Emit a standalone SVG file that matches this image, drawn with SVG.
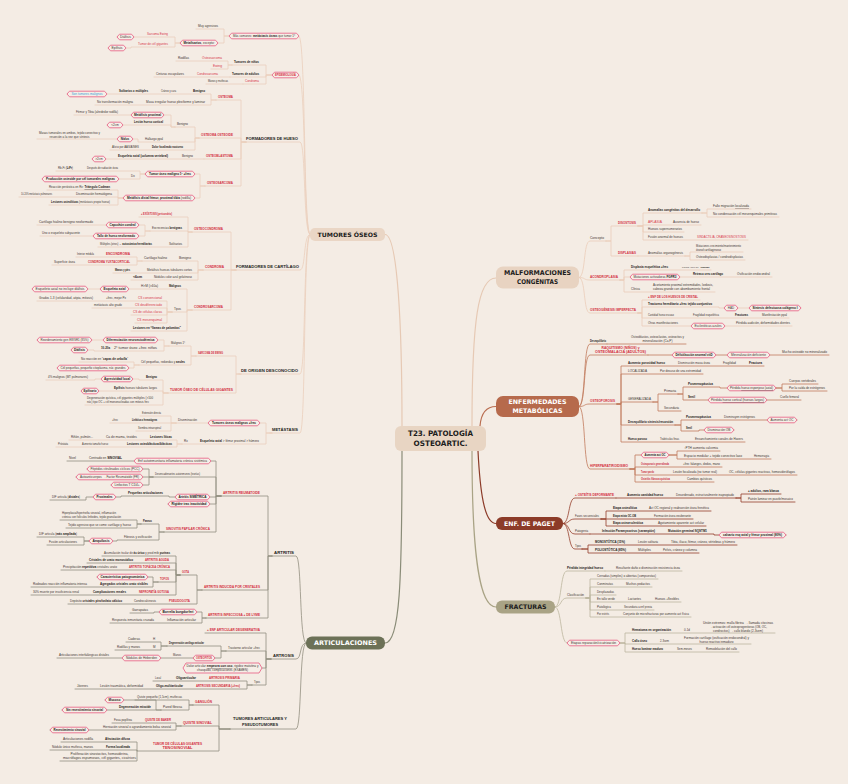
<svg xmlns="http://www.w3.org/2000/svg" width="848" height="784" viewBox="0 0 848 784">
<style>
text{font-family:"Liberation Sans",Arial,sans-serif;font-size:3px;fill:#3f3633}
.b{font-weight:700;fill:#1d1816}
.r{font-weight:700;fill:#d32c3d;font-size:2.9px}
.rr{fill:#d8374a}
.rb{font-weight:700;fill:#c9283a}
.k{font-weight:700;fill:#231d1a;font-size:3.8px}
.bl{fill:#3a9fd6}
.m{text-anchor:middle}
.u{text-decoration:underline}
.s{font-size:2.6px}
.xs{font-size:2.5px}
.hx{fill:#f6eee7;stroke:#ea7895;stroke-width:1}
.L{font-family:"DejaVu Sans",sans-serif;font-weight:700}
.w{fill:#fff}
.c{fill:none;stroke-width:.8;stroke-linejoin:round;stroke-linecap:round}
.ct{stroke:#ebcfbd}.ca{stroke:#938f80}.cm{stroke:#ebcdb9}.ce{stroke:#c27b5d}.cp{stroke:#953f2c}.cf{stroke:#bcb69e}
.mc{fill:none;stroke-width:1.2;stroke-linecap:round}
</style>
<rect width="848" height="784" fill="#f4ece4"/>
<g id="connectors">
<path class="mc" stroke="#e6c9b4" d="M385 234.5C398 234.5 402 330 402 426"/>
<path class="mc" stroke="#e6c9b4" d="M472 426C472 320 478 278 496 278"/>
<path class="mc" stroke="#b96d50" d="M480 426C481 414 486 406.5 496 406.5"/>
<path class="mc" stroke="#8c3b28" d="M478 451C480 490 484 523.5 496 523.5"/>
<path class="mc" stroke="#a9a385" d="M472 451C472 560 480 607 496 607"/>
<path class="mc" stroke="#8a8c78" d="M402 451C402 580 400 643 385 643"/>
<path class="c ct" d="M310 234.5C303 234.5 306 36 299 36M310 234.5C303 234.5 306 75 299 75M310 234.5C303 234.5 306 142 300 142H244M310 234.5C303 234.5 306 270 300 270H234M310 234.5C303 234.5 306 374 300 374H239M310 234.5C303 234.5 306 433 300 433H270
M229 36H224V29H196M229 36H224V43H180M180 43H175V37H140H117M180 43H175V47H136H131V48H108
M272 75H266V65H232M272 75H266V77H230M272 75H266V84H243M232 65H228V61H176M232 65H228V69H211M230 77H154M243 84H206
M246 142H241V100H216M246 142H241V138H199M246 142H241V159H204M246 142H241V186H205
M216 100H211V94H67M216 100H211V105H95M199 138H195V127H175M175 127H171V115H74M175 127H171V125H107M199 138H195V142H143H138V139H37M199 138H195V150H110M204 159H92
M205 186H200V174H145M145 174H140V171H56M145 174H140V179H42M205 186H200V198H123M123 198H118V190H47M123 198H118V197H19M123 198H118V205H49
M236 270H231V232H192M236 270H203M236 270H231V310H192M192 232H188V217H139M192 232H188V231H150M150 231H145V225H37M150 231H145V236H40M192 232H188V247H98
M203 270H198V261H142M142 261H137V257H76M142 261H137V265H52M203 270H198V273H113M203 270H198V280H131
M192 310H187V289H32M192 310H187V312H172M172 312H167V301H37M172 312H167V308H92M172 312H167V315H131M172 312H167V323H135M192 310H187V331H131
M241 374H236V356H196M241 374H236V393H168M196 356H191V346H169M169 346H164V340H37M169 346H164V351H99H94V350H71M196 356H191V365H139M139 365H134V362H79M139 365H134V368H57
M168 393H163V380H144H139V379H101H95V380H46M168 393H163V391H81M168 393H163V405H85
M272 433H266V423H176M176 423H171V416H140M176 423H110M176 423H171V431H136M272 433H266V444H182M182 444H177V440H69M182 444H177V447H56"/>
<path class="c ca" d="M306 643C299 643 302 556 296 556H272M306 643C299 643 302 659 296 659H271M306 643C299 643 302 729 296 729H230
M272 556H268V496H221M272 556H268V590H202M272 556H268V618H206
M221 496H216V461H67M221 496H216V477H153M153 477H149V469H87M153 477H76M153 477H149V485H111M221 496H216V497H175H169V496H126H121V497H93H86V500H50M221 496H216V504H168
M221 496H216V532H164M164 532H159V524H141M141 524H137V520H60M141 524H137V528H66M164 532H159V540H122H117V541H89M89 541H84V537H37M89 541H84V545H47
M202 590H197V575H180M180 575H176V556H102M180 575H176V563H87M180 575H176V570H61M180 575H176V582H158M158 582H153V577H97M158 582H153V587H31M180 575H176V595H31M202 590H197V604H68
M206 618H202V612H159H154V613H130M206 618H202V623H110
M271 659H266V633H205M271 659H266V651H226M226 651H221V646H167M167 646H161V642H126M167 646H161V650H115M226 651H221V658H57M271 659H266V668H262M271 659H266V685H252M252 685H247V681H153M252 685H247V689H75
M230 729H219V705H193M193 705H189V700H135M193 705H189V710H161M161 710H156V700H105M161 710H62M230 729H219V726H181M181 726H176V723H112M181 726H176V730H50M230 729H219V751H137V742H61M137 751V750H50M137 751V761H60"/>
<path class="c cm" d="M579 277.5C586 277.5 583 241 590 241H606M579 277.5C586 277.5 583 280 590 280H620M579 277.5C586 277.5 583 313 590 313H638
M606 241H611V226H638M606 241H611V256H638M638 226H643V213H702M702 213H707V209H751M702 213H707V217H779M638 226H643V225H701M638 226H643V232H684M638 226H643V240H748
M638 256H685M685 256H690V252H743M685 256H690V260H745M620 280H624V270H711M620 280H624V277H772M620 280H624V292H715
M638 313H642V300H700M638 313H642V307H714H719V308H801M638 313H642V318H789M638 313H642V326H792"/>
<path class="c ce" d="M579 406.5C586 406.5 583 344 590 344H607M579 406.5C586 406.5 583 355 590 355H648M579 406.5C586 406.5 583 404 590 404H617M579 406.5C586 406.5 583 469 590 469H630
M607 344H686M648 355H829M617 404H621V366H764M617 404H621V374H703M617 404H621V402H653M653 402H658V394H678M678 394H683V387H720V388H776M776 388H782V384H818M776 388H782V391H827M678 394H683V400H801M653 402H658V411H681
M617 404H621V425H675M675 425H681V420H797M675 425H681V431H699V430H734M617 404H621V442H745
M630 469H635V455H669M669 455H677V451H720M669 455H677V459H771M630 469H635V467H722M630 469H635V475H797M630 469H635V482H714"/>
<path class="c cp" d="M563 523.5C570 523.5 568 498 575 498H616M563 523.5C570 523.5 568 519 575 519H601M563 523.5C570 523.5 568 534 575 534H590M563 523.5C570 523.5 568 549 575 549H582
M616 498H736M736 498H741V494H781M736 498H741V502H795M601 519H606V511H711M601 519H693M601 519H606V526H706M590 534H714V535H786M582 549H588V545H737M582 549H588V553H699"/>
<path class="c cf" d="M555 607C562 607 560 571 567 571H605M555 607C562 607 560 598 567 598H586M555 607C562 607 560 643 567 643
M605 571H682M586 598H590V579H658M586 598H590V587H652M586 598H590V595H616M586 598H590V602H681M586 598H590V610H654M586 598H590V617H691
M620 643H625V633H775M620 643H625V644H751M620 643H625V652H739"/>
</g>

<g id="center"><rect x="395" y="426" width="91" height="25" rx="6" fill="#e8d5c3"/><text class="L m" x="440.5" y="435.6" style="font-size:7.5px;fill:#1c1c1c" textLength="65" lengthAdjust="spacingAndGlyphs">T23. PATOLOGÍA</text><text class="L m" x="440.5" y="446.4" style="font-size:7.5px;fill:#1c1c1c" textLength="54" lengthAdjust="spacingAndGlyphs">OSTEOARTIC.</text></g>
<g id="tumores"><rect x="310" y="228" width="75" height="13" rx="5" fill="#ead6c5"/><text class="L m" x="347.5" y="236.7" style="font-size:6px;fill:#1c1c1c" textLength="60" lengthAdjust="spacingAndGlyphs">TUMORES ÓSEOS</text></g>
<g id="malformaciones"><rect x="496" y="266.5" width="83" height="22" rx="7" fill="#e8d3c1"/><text class="L m" x="537.5" y="275" style="font-size:6.5px;fill:#1c1c1c" textLength="67" lengthAdjust="spacingAndGlyphs">MALFORMACIONES</text><text class="L m" x="537.5" y="283.6" style="font-size:6.5px;fill:#1c1c1c" textLength="41" lengthAdjust="spacingAndGlyphs">CONGÉNITAS</text></g>
<g id="metabolicas"><rect x="496" y="396" width="83" height="21" rx="7" fill="#b66a4c"/><text class="L m w" x="537.5" y="404.4" style="font-size:6.3px" textLength="58" lengthAdjust="spacingAndGlyphs">ENFERMEDADES</text><text class="L m w" x="537.5" y="413" style="font-size:6.3px" textLength="50" lengthAdjust="spacingAndGlyphs">METABÓLICAS</text></g>
<g id="paget"><rect x="496" y="517" width="67" height="13" rx="6" fill="#8c3b28"/><text class="L m w" x="529.5" y="526" style="font-size:6.3px" textLength="51" lengthAdjust="spacingAndGlyphs">ENF. DE PAGET</text></g>
<g id="fracturas"><rect x="496" y="600.5" width="59" height="13" rx="6" fill="#a9a385"/><text class="L m" x="525.5" y="609.4" style="font-size:6.3px;fill:#1c1c1c" textLength="42" lengthAdjust="spacingAndGlyphs">FRACTURAS</text></g>
<g id="articulaciones"><rect x="306" y="636.5" width="79" height="13" rx="6" fill="#6c7157"/><text class="L m w" x="345.5" y="645.4" style="font-size:6.3px" textLength="63" lengthAdjust="spacingAndGlyphs">ARTICULACIONES</text></g>

<g id="t-mas"><polygon class="hx" points="229,36 231.5,33.2 296.5,33.2 299,36 296.5,38.8 231.5,38.8"/><text class="m" x="264" y="37" textLength="62" lengthAdjust="spacingAndGlyphs">Más comunes: <tspan class="b">metástasis óseas</tspan> que tumor 1º</text></g>
<g id="t-muy"><text x="198" y="27" textLength="20" lengthAdjust="spacingAndGlyphs">Muy agresivos</text></g>
<g id="t-meta"><polygon class="hx" points="180,43 182.5,40.2 215.5,40.2 218,43 215.5,45.8 182.5,45.8"/><text class="m" x="199" y="44" textLength="31" lengthAdjust="spacingAndGlyphs"><tspan class="b">Metafisarios</tspan>, excepto:</text></g>
<g id="t-sew"><text class="rr" x="147" y="35" textLength="21" lengthAdjust="spacingAndGlyphs">Sarcoma Ewing</text></g>
<g id="t-dia"><polygon class="hx" points="117,37 119.5,34.2 131.5,34.2 134,37 131.5,39.8 119.5,39.8"/><text class="m" x="125.5" y="38" textLength="11" lengthAdjust="spacingAndGlyphs">Diáfisis</text></g>
<g id="t-tcg"><text class="rr" x="138" y="45" textLength="30" lengthAdjust="spacingAndGlyphs">Tumor de cél gigantes</text></g>
<g id="t-epi"><polygon class="hx" points="108,48 110.5,45.2 123.5,45.2 126,48 123.5,50.8 110.5,50.8"/><text class="m" x="117" y="49" textLength="11" lengthAdjust="spacingAndGlyphs">Epífisis</text></g>
<g id="t-epid"><polygon class="hx" points="272,75 274.5,72.2 296.5,72.2 299,75 296.5,77.8 274.5,77.8"/><text class="r m" x="285.5" y="76" textLength="21" lengthAdjust="spacingAndGlyphs">EPIDEMIOLOGÍA</text></g>
<g id="t-tn"><text class="b" x="234" y="63" textLength="25" lengthAdjust="spacingAndGlyphs">Tumores de niños</text></g>
<g id="t-os1"><text class="rr" x="202" y="59" textLength="20" lengthAdjust="spacingAndGlyphs">Osteosarcoma</text></g>
<g id="t-rod"><text x="178" y="59" textLength="11" lengthAdjust="spacingAndGlyphs">Rodillas</text></g>
<g id="t-ew1"><text class="rr" x="213" y="67" textLength="9" lengthAdjust="spacingAndGlyphs">Ewing</text></g>
<g id="t-ta"><text class="b" x="232" y="75" textLength="27" lengthAdjust="spacingAndGlyphs">Tumores de adultos</text></g>
<g id="t-cs1"><text class="rr" x="197" y="75" textLength="21" lengthAdjust="spacingAndGlyphs">Condrosarcoma</text></g>
<g id="t-cin"><text x="156" y="75" textLength="28" lengthAdjust="spacingAndGlyphs">Cinturas escapulares</text></g>
<g id="t-con1"><text class="rr" x="245" y="82" textLength="14" lengthAdjust="spacingAndGlyphs">Condroma</text></g>
<g id="t-man"><text x="208" y="82" textLength="20" lengthAdjust="spacingAndGlyphs">Manos y muñecas</text></g>

<g id="t-fh"><text class="k" x="246" y="140.4" textLength="52" lengthAdjust="spacingAndGlyphs">FORMADORES DE HUESO</text></g>
<g id="t-ostm"><text class="r" x="218" y="98" textLength="15" lengthAdjust="spacingAndGlyphs">OSTEOMA</text></g>
<g id="t-ben1"><text class="b" x="193" y="92" textLength="12" lengthAdjust="spacingAndGlyphs">Benigno</text></g>
<g id="t-cra"><text x="161" y="92" textLength="15" lengthAdjust="spacingAndGlyphs">Cráneo y cara</text></g>
<g id="t-sol"><text class="b" x="119" y="92" textLength="29" lengthAdjust="spacingAndGlyphs">Solitarios o múltiples</text></g>
<g id="t-son"><polygon class="hx" points="67,94 69.5,91.2 104.5,91.2 107,94 104.5,96.8 69.5,96.8"/><text class="m bl" x="87" y="95" textLength="31" lengthAdjust="spacingAndGlyphs">Son tumores malignos</text></g>
<g id="t-masa"><text x="146" y="103" textLength="59" lengthAdjust="spacingAndGlyphs">Masa irregular hueso plexiforme y laminar</text></g>
<g id="t-notr"><text x="97" y="103" textLength="36" lengthAdjust="spacingAndGlyphs">No transformación maligna</text></g>
<g id="t-oo"><text class="r" x="201" y="136" textLength="32" lengthAdjust="spacingAndGlyphs">OSTEOMA OSTEOIDE</text></g>
<g id="t-ben2"><text x="177" y="125" textLength="11" lengthAdjust="spacingAndGlyphs">Benigno</text></g>
<g id="t-metp"><polygon class="hx" points="131,115 133.5,112.2 161.5,112.2 164,115 161.5,117.8 133.5,117.8"/><text class="b m" x="147.5" y="116" textLength="27" lengthAdjust="spacingAndGlyphs">Metáfisis proximal</text></g>
<g id="t-fem"><text x="76" y="113" textLength="42" lengthAdjust="spacingAndGlyphs">Fémur y Tibia (alrededor rodilla)</text></g>
<g id="t-lhc"><text class="b" x="134" y="123" textLength="29" lengthAdjust="spacingAndGlyphs">Lesión hueso cortical</text></g>
<g id="t-2cm"><polygon class="hx" points="107,125 109.5,122.2 120.5,122.2 123,125 120.5,127.8 109.5,127.8"/><text class="m" x="115" y="126">&lt;2cm</text></g>
<g id="t-hall"><text x="145" y="140" textLength="18" lengthAdjust="spacingAndGlyphs">Hallazgo ppal</text></g>
<g id="t-nid"><polygon class="hx" points="117,139 119.5,136.2 130.5,136.2 133,139 130.5,141.8 119.5,141.8"/><text class="b m" x="125" y="140">Nidus</text></g>
<g id="t-masas"><text class="m" x="69.5" y="133.6" textLength="61" lengthAdjust="spacingAndGlyphs">Masas tumorales en ambos, tejido conectivo y</text><text class="m" x="69.5" y="137.6" textLength="40" lengthAdjust="spacingAndGlyphs">resorción a la vez que síntesis</text></g>
<g id="t-dol"><text class="b" x="152" y="148" textLength="31" lengthAdjust="spacingAndGlyphs">Dolor focalizado nocturno</text></g>
<g id="t-aliv"><text x="112" y="148" textLength="27" lengthAdjust="spacingAndGlyphs">Alivio por AAS/AINES</text></g>
<g id="t-ob"><text class="r" x="206" y="157" textLength="27" lengthAdjust="spacingAndGlyphs">OSTEOBLASTOMA</text></g>
<g id="t-ben3"><text x="182" y="157" textLength="11" lengthAdjust="spacingAndGlyphs">Benigno</text></g>
<g id="t-esq1"><text class="b" x="118" y="157" textLength="50" lengthAdjust="spacingAndGlyphs">Esqueleto axial (columna vertebral)</text></g>
<g id="t-gt2"><polygon class="hx" points="92,159 94.5,156.2 103.5,156.2 106,159 103.5,161.8 94.5,161.8"/><text class="m" x="99" y="160">&gt;2cm</text></g>
<g id="t-osar"><text class="r" x="207" y="184" textLength="26" lengthAdjust="spacingAndGlyphs">OSTEOSARCOMA</text></g>
<g id="t-tom"><polygon class="hx" points="145,174 147.5,171.2 192.5,171.2 195,174 192.5,176.8 147.5,176.8"/><text class="b m" x="170" y="175" textLength="42" lengthAdjust="spacingAndGlyphs">Tumor óseo maligno 1º +frec</text></g>
<g id="t-desp"><text x="87" y="169" textLength="31" lengthAdjust="spacingAndGlyphs">Después de radiación ósea</text></g>
<g id="t-rb"><text x="58" y="169" textLength="15" lengthAdjust="spacingAndGlyphs">Rb-Fi (<tspan class="b">LiFr</tspan>)</text></g>
<g id="t-dx"><text x="131" y="177">Dx</text></g>
<g id="t-prod"><polygon class="hx" points="42,179 44.5,176.2 116.5,176.2 119,179 116.5,181.8 44.5,181.8"/><text class="b m" x="80.5" y="180" textLength="69" lengthAdjust="spacingAndGlyphs">Producción osteoide por cél tumorales malignas</text></g>
<g id="t-mdf"><polygon class="hx" points="123,198 125.5,195.2 192.5,195.2 195,198 192.5,200.8 125.5,200.8"/><text class="m" x="159" y="199" textLength="64" lengthAdjust="spacingAndGlyphs"><tspan class="b">Metáfisis distal fémur, proximal tibia</tspan> (rodilla)</text></g>
<g id="t-reac"><text x="49" y="188" textLength="61" lengthAdjust="spacingAndGlyphs">Reacción perióstica en Rx: <tspan class="b u">Triángulo Codman</tspan></text></g>
<g id="t-dise"><text x="76" y="195" textLength="36" lengthAdjust="spacingAndGlyphs">Diseminación hematógena</text></g>
<g id="t-1020"><text x="21" y="195" textLength="31" lengthAdjust="spacingAndGlyphs">10-20% metástasis pulmonares</text></g>
<g id="t-lost"><text class="s" x="51" y="203" textLength="59" lengthAdjust="spacingAndGlyphs"><tspan class="b">Lesiones osteolíticas</tspan> (metástasis propio hueso)</text></g>

<g id="t-fc"><text class="k" x="236" y="268.4" textLength="63" lengthAdjust="spacingAndGlyphs">FORMADORES DE CARTÍLAGO</text></g>
<g id="t-ocd"><text class="r" x="194" y="230" textLength="29" lengthAdjust="spacingAndGlyphs">OSTEOCONDROMA</text></g>
<g id="t-exo"><text class="r" x="141" y="215" textLength="31" lengthAdjust="spacingAndGlyphs">+ EXÓSTOSIS (pericondrio)</text></g>
<g id="t-exc"><text x="152" y="229" textLength="30" lengthAdjust="spacingAndGlyphs">Excrecencias <tspan class="b">benignas</tspan></text></g>
<g id="t-cap"><polygon class="hx" points="106,225 108.5,222.2 136.5,222.2 139,225 136.5,227.8 108.5,227.8"/><text class="b m" x="122.5" y="226" textLength="26" lengthAdjust="spacingAndGlyphs">Capuchón condral</text></g>
<g id="t-carh"><text x="39" y="223" textLength="54" lengthAdjust="spacingAndGlyphs">Cartílago hialino benigno neoformado</text></g>
<g id="t-tallo"><polygon class="hx" points="93,236 95.5,233.2 136.5,233.2 139,236 136.5,238.8 95.5,238.8"/><text class="b m" x="116" y="237" textLength="38" lengthAdjust="spacingAndGlyphs">Tallo de hueso neoformado</text></g>
<g id="t-uno"><text x="42" y="234" textLength="38" lengthAdjust="spacingAndGlyphs">Uno o esqueleto subyacente</text></g>
<g id="t-soli"><text x="169" y="245" textLength="13" lengthAdjust="spacingAndGlyphs">Solitarios</text></g>
<g id="t-mult"><text class="s" x="100" y="245" textLength="52" lengthAdjust="spacingAndGlyphs">Múltiples (otros) → <tspan class="b">autosómica hereditarias</tspan></text></g>
<g id="t-cond"><text class="r" x="205" y="268" textLength="19" lengthAdjust="spacingAndGlyphs">CONDROMA</text></g>
<g id="t-ben4"><text x="179" y="259" textLength="12" lengthAdjust="spacingAndGlyphs">Benigno</text></g>
<g id="t-carh2"><text x="144" y="259" textLength="23" lengthAdjust="spacingAndGlyphs">Cartílago hialino</text></g>
<g id="t-enc"><text class="r" x="106" y="255" textLength="24" lengthAdjust="spacingAndGlyphs">ENCONDROMA</text></g>
<g id="t-int"><text x="77" y="255" textLength="17" lengthAdjust="spacingAndGlyphs">Interior médula</text></g>
<g id="t-sup"><text x="54" y="263" textLength="21" lengthAdjust="spacingAndGlyphs">Superficie ósea</text></g>
<g id="t-yux"><text class="r" x="88" y="263" textLength="42" lengthAdjust="spacingAndGlyphs">CONDROMA YUXTACORTICAL</text></g>
<g id="t-mht"><text x="147" y="271" textLength="45" lengthAdjust="spacingAndGlyphs">Metáfisis huesos tubulares cortos</text></g>
<g id="t-myp"><text class="b" x="115" y="271" textLength="15" lengthAdjust="spacingAndGlyphs">Manos y pies</text></g>
<g id="t-nod"><text x="154" y="278" textLength="38" lengthAdjust="spacingAndGlyphs">Nódulos color azul gelatinoso</text></g>
<g id="t-6cm"><text class="b" x="133" y="278" textLength="9" lengthAdjust="spacingAndGlyphs">&lt;6cm</text></g>
<g id="t-csar"><text class="r" x="194" y="308" textLength="29" lengthAdjust="spacingAndGlyphs">CONDROSARCOMA</text></g>
<g id="t-mal"><text class="b" x="169" y="287" textLength="12" lengthAdjust="spacingAndGlyphs">Malignos</text></g>
<g id="t-hm"><text x="141" y="287" textLength="17" lengthAdjust="spacingAndGlyphs">H&gt;M (&gt;40a)</text></g>
<g id="t-esq2"><polygon class="hx" points="100,289 102.5,286.2 126.5,286.2 129,289 126.5,291.8 102.5,291.8"/><text class="b m" x="114.5" y="290" textLength="22" lengthAdjust="spacingAndGlyphs">Esqueleto axial</text></g>
<g id="t-esq3"><polygon class="hx" points="32,289 34.5,286.2 85.5,286.2 88,289 85.5,291.8 34.5,291.8"/><text class="m" x="60" y="290" textLength="49" lengthAdjust="spacingAndGlyphs">Esqueleto axial no incluye diáfisis</text></g>
<g id="t-tip1"><text x="174" y="310" textLength="7" lengthAdjust="spacingAndGlyphs">Tipos</text></g>
<g id="t-csc"><text class="rr" x="138" y="299" textLength="24" lengthAdjust="spacingAndGlyphs">CS convencional</text></g>
<g id="t-frec"><text x="106" y="299" textLength="20" lengthAdjust="spacingAndGlyphs">+frec, mejor Px</text></g>
<g id="t-gra"><text x="39" y="299" textLength="54" lengthAdjust="spacingAndGlyphs">Grados 1-3 (celularidad, atipia, mitosis)</text></g>
<g id="t-csd"><text class="rr" x="135" y="306" textLength="27" lengthAdjust="spacingAndGlyphs">CS desdiferenciado</text></g>
<g id="t-met"><text x="94" y="306" textLength="28" lengthAdjust="spacingAndGlyphs">metástasis alto grado</text></g>
<g id="t-cscc"><text class="rr" x="133" y="313" textLength="29" lengthAdjust="spacingAndGlyphs">CS de células claras</text></g>
<g id="t-csm"><text class="rr" x="137" y="321" textLength="25" lengthAdjust="spacingAndGlyphs">CS mesenquimal</text></g>
<g id="t-llam"><text class="b" x="133" y="329" textLength="48" lengthAdjust="spacingAndGlyphs">Lesiones en “llamas de palomitas”</text></g>

<g id="t-dod"><text class="k" x="241" y="372.4" textLength="57" lengthAdjust="spacingAndGlyphs">DE ORIGEN DESCONOCIDO</text></g>
<g id="t-sew2"><text class="r" x="198" y="354" textLength="25" lengthAdjust="spacingAndGlyphs">SARCOMA DE EWING</text></g>
<g id="t-mal1"><text x="171" y="344" textLength="14" lengthAdjust="spacingAndGlyphs">Malignos 1º</text></g>
<g id="t-dif"><polygon class="hx" points="103,340 105.5,337.2 155.5,337.2 158,340 155.5,342.8 105.5,342.8"/><text class="b m" x="130.5" y="341" textLength="48" lengthAdjust="spacingAndGlyphs">Diferenciación neuroectodérmica</text></g>
<g id="t-reo"><polygon class="hx" points="37,340 39.5,337.2 89.5,337.2 92,340 89.5,342.8 39.5,342.8"/><text class="m" x="64.5" y="341" textLength="48" lengthAdjust="spacingAndGlyphs">Reordenamiento gen EWSR1 (85%)</text></g>
<g id="t-2tum"><text x="114" y="349" textLength="43" lengthAdjust="spacingAndGlyphs">2º tumor óseo +frec niños</text></g>
<g id="t-1020a"><text class="b" x="101" y="349" textLength="9" lengthAdjust="spacingAndGlyphs">10-20a</text></g>
<g id="t-dia2"><polygon class="hx" points="71,350 73.5,347.2 85.5,347.2 88,350 85.5,352.8 73.5,352.8"/><text class="b m" x="79.5" y="351" textLength="11" lengthAdjust="spacingAndGlyphs">Diáfisis</text></g>
<g id="t-celp"><text x="141" y="363" textLength="44" lengthAdjust="spacingAndGlyphs">Cél pequeñas, redondas y <tspan class="b">azules</tspan></text></g>
<g id="t-noreac"><text x="81" y="360" textLength="47" lengthAdjust="spacingAndGlyphs">No reacción en “<tspan class="b">capas de cebolla</tspan>”</text></g>
<g id="t-celp2"><polygon class="hx" points="57,368 59.5,365.2 126.5,365.2 129,368 126.5,370.8 59.5,370.8"/><text class="m" x="93" y="369" textLength="65" lengthAdjust="spacingAndGlyphs">Cél pequeñas, pequeño citoplasma, núc grandes</text></g>
<g id="t-tcg2"><text class="r" x="170" y="391" textLength="63" lengthAdjust="spacingAndGlyphs">TUMOR ÓSEO DE CÉLULAS GIGANTES</text></g>
<g id="t-ben5"><text class="b" x="146" y="378" textLength="11" lengthAdjust="spacingAndGlyphs">Benigno</text></g>
<g id="t-agr"><polygon class="hx" points="101,379 103.5,376.2 130.5,376.2 133,379 130.5,381.8 103.5,381.8"/><text class="b m" x="117" y="380" textLength="26" lengthAdjust="spacingAndGlyphs">Agresividad local</text></g>
<g id="t-4m"><text x="48" y="378" textLength="40" lengthAdjust="spacingAndGlyphs">4% malignos (MT pulmonares)</text></g>
<g id="t-epih"><text x="114" y="389" textLength="43" lengthAdjust="spacingAndGlyphs"><tspan class="b">Epífisis</tspan> huesos tubulares largos</text></g>
<g id="t-epif"><polygon class="hx" points="81,391 83.5,388.2 96.5,388.2 99,391 96.5,393.8 83.5,393.8"/><text class="b m" x="90" y="392" textLength="13" lengthAdjust="spacingAndGlyphs">Epifisario</text></g>
<g id="t-deg"><text x="87" y="399" textLength="66" lengthAdjust="spacingAndGlyphs">Degeneración quística, cél gigantes múltiples (&gt;100</text><text x="87" y="403" textLength="62" lengthAdjust="spacingAndGlyphs">núc) tipo OC + cél mononucleadas con mitosis frec</text></g>

<g id="t-mts"><text class="k" x="272" y="431.4" textLength="26" lengthAdjust="spacingAndGlyphs">METÁSTASIS</text></g>
<g id="t-tomf"><polygon class="hx" points="208,423 210.5,420.2 257.5,420.2 260,423 257.5,425.8 210.5,425.8"/><text class="b m" x="234" y="424" textLength="44" lengthAdjust="spacingAndGlyphs">Tumores óseos malignos +frec</text></g>
<g id="t-disem"><text x="178" y="421" textLength="19" lengthAdjust="spacingAndGlyphs">Diseminación</text></g>
<g id="t-ext"><text x="142" y="414" textLength="19" lengthAdjust="spacingAndGlyphs">Extensión directa</text></g>
<g id="t-lin"><text class="b" x="132" y="421" textLength="25" lengthAdjust="spacingAndGlyphs">Linfática o hematógena</text></g>
<g id="t-fr"><text x="112" y="421" textLength="6" lengthAdjust="spacingAndGlyphs">+frec</text></g>
<g id="t-siem"><text x="138" y="429" textLength="23" lengthAdjust="spacingAndGlyphs">Siembra intraespinal</text></g>
<g id="t-eaf"><text x="200" y="442" textLength="59" lengthAdjust="spacingAndGlyphs"><tspan class="b">Esqueleto axial</tspan> &gt; fémur proximal &gt; húmero</text></g>
<g id="t-rx"><text x="184" y="442">Rx</text></g>
<g id="t-llit"><text class="b" x="150" y="438" textLength="22" lengthAdjust="spacingAndGlyphs">Lesiones líticas</text></g>
<g id="t-ca"><text x="106" y="438" textLength="31" lengthAdjust="spacingAndGlyphs">Ca de mama, tiroides</text></g>
<g id="t-rin"><text x="71" y="438" textLength="22" lengthAdjust="spacingAndGlyphs">Riñón, pulmón...</text></g>
<g id="t-lob"><text class="b" x="127" y="445" textLength="45" lengthAdjust="spacingAndGlyphs">Lesiones osteoblásticas/blásticas</text></g>
<g id="t-aum"><text x="82" y="445" textLength="26" lengthAdjust="spacingAndGlyphs">Aumento tamaño hueso</text></g>
<g id="t-pros"><text x="58" y="445" textLength="10" lengthAdjust="spacingAndGlyphs">Próstata</text></g>

<g id="a-art"><text class="k" x="274" y="554.4" textLength="20" lengthAdjust="spacingAndGlyphs">ARTRITIS</text></g>
<g id="a-ar"><text class="r" x="223" y="494" textLength="37" lengthAdjust="spacingAndGlyphs">ARTRITIS REUMATOIDE</text></g>
<g id="a-enf"><polygon class="hx" points="134,461 136.5,458.2 208.5,458.2 211,461 208.5,463.8 136.5,463.8"/><text class="m" x="172.5" y="462" textLength="69" lengthAdjust="spacingAndGlyphs">Enf autoinmunitaria inflamatoria crónica sistémica</text></g>
<g id="a-cen"><text x="89" y="459" textLength="33" lengthAdjust="spacingAndGlyphs">Centrado en <tspan class="b">SINOVIAL</tspan></text></g>
<g id="a-niv"><text x="69" y="459" textLength="7" lengthAdjust="spacingAndGlyphs">Nivel</text></g>
<g id="a-des"><text x="155" y="475" textLength="45" lengthAdjust="spacingAndGlyphs">Desencadenantes autoinmunes (teorías)</text></g>
<g id="a-pep"><polygon class="hx" points="87,469 89.5,466.2 140.5,466.2 143,469 140.5,471.8 89.5,471.8"/><text class="m" x="115" y="470" textLength="49" lengthAdjust="spacingAndGlyphs">Péptidos citrulinados cíclicos (PCC)</text></g>
<g id="a-auto"><polygon class="hx" points="76,477 78.5,474.2 140.5,474.2 143,477 140.5,479.8 78.5,479.8"/><text class="m" x="109.5" y="478" textLength="59" lengthAdjust="spacingAndGlyphs">Autoanticuerpos → Factor Reumatoide (FR)</text></g>
<g id="a-lt"><polygon class="hx" points="111,485 113.5,482.2 140.5,482.2 143,485 140.5,487.8 113.5,487.8"/><text class="m" x="127" y="486" textLength="25" lengthAdjust="spacingAndGlyphs">Linfocitos T CD4+</text></g>
<g id="a-sim"><polygon class="hx" points="175,497 177.5,494.2 207.5,494.2 210,497 207.5,499.8 177.5,499.8"/><text class="b m" x="192.5" y="498" textLength="28" lengthAdjust="spacingAndGlyphs">Artritis SIMÉTRICA</text></g>
<g id="a-peq"><text class="b" x="128" y="494" textLength="35" lengthAdjust="spacingAndGlyphs">Pequeñas articulaciones</text></g>
<g id="a-prox"><polygon class="hx" points="93,497 95.5,494.2 113.5,494.2 116,497 113.5,499.8 95.5,499.8"/><text class="b m" x="104.5" y="498" textLength="16" lengthAdjust="spacingAndGlyphs">Proximales</text></g>
<g id="a-difd"><text x="52" y="498" textLength="28" lengthAdjust="spacingAndGlyphs">DIF articula (<tspan class="b">distales</tspan>)</text></g>
<g id="a-rig"><polygon class="hx" points="168,504 170.5,501.2 207.5,501.2 210,504 207.5,506.8 170.5,506.8"/><text class="b m" x="189" y="505" textLength="35" lengthAdjust="spacingAndGlyphs">Rigidez tras inactividad</text></g>
<g id="a-sino"><text class="r" x="166" y="530" textLength="44" lengthAdjust="spacingAndGlyphs">SINOVITIS PAPILAR CRÓNICA</text></g>
<g id="a-pan"><text class="b" x="143" y="522" textLength="9" lengthAdjust="spacingAndGlyphs">Pannus</text></g>
<g id="a-hip"><text x="62" y="514" textLength="54" lengthAdjust="spacingAndGlyphs">Hiperplasia/hipertrofia sinovial, inflamación</text><text x="62" y="518" textLength="59" lengthAdjust="spacingAndGlyphs">crónica con folículos linfoides, tejido granulación</text></g>
<g id="a-tej"><text x="68" y="526" textLength="63" lengthAdjust="spacingAndGlyphs">Tejido agresivo que se come cartílago y hueso</text></g>
<g id="a-fib"><text x="124" y="538" textLength="28" lengthAdjust="spacingAndGlyphs">Fibrosis y osificación</text></g>
<g id="a-anq"><polygon class="hx" points="89,541 91.5,538.2 110.5,538.2 113,541 110.5,543.8 91.5,543.8"/><text class="b m" x="101" y="542" textLength="17" lengthAdjust="spacingAndGlyphs">Anquilosis</text></g>
<g id="a-difm"><text x="39" y="535" textLength="38" lengthAdjust="spacingAndGlyphs">DIF articula (<tspan class="b">más ampliada</tspan>)</text></g>
<g id="a-fus"><text x="49" y="543" textLength="28" lengthAdjust="spacingAndGlyphs">Fusión articulaciones</text></g>
<g id="a-aic"><text class="r" x="204" y="588" textLength="56" lengthAdjust="spacingAndGlyphs">ARTRITIS INDUCIDA POR CRISTALES</text></g>
<g id="a-gota"><text class="r" x="182" y="573" textLength="7" lengthAdjust="spacingAndGlyphs">GOTA</text></g>
<g id="a-acu"><text x="104" y="554" textLength="66" lengthAdjust="spacingAndGlyphs">Acumulación tisular de <tspan class="b">ác úrico</tspan> y prod mtb <tspan class="b">purinas</tspan></text></g>
<g id="a-aag"><text class="r" x="145" y="561" textLength="24" lengthAdjust="spacingAndGlyphs">ARTRITIS AGUDA</text></g>
<g id="a-cri"><text class="b" x="89" y="561" textLength="44" lengthAdjust="spacingAndGlyphs">Cristales de urato monosódico</text></g>
<g id="a-atc"><text class="r" x="129" y="568" textLength="41" lengthAdjust="spacingAndGlyphs">ARTRITIS TOFÁCEA CRÓNICA</text></g>
<g id="a-pre"><text x="63" y="568" textLength="54" lengthAdjust="spacingAndGlyphs">Precipitación <tspan class="b">repetitiva</tspan> cristales urato</text></g>
<g id="a-tof"><text class="r" x="160" y="580" textLength="9" lengthAdjust="spacingAndGlyphs">TOFOS</text></g>
<g id="a-cpat"><polygon class="hx" points="97,577 99.5,574.2 145.5,574.2 148,577 145.5,579.8 99.5,579.8"/><text class="b m" x="122.5" y="578" textLength="44" lengthAdjust="spacingAndGlyphs">Característica patognomónica</text></g>
<g id="a-agre"><text class="b" x="100" y="585" textLength="48" lengthAdjust="spacingAndGlyphs">Agregados cristales urato visibles</text></g>
<g id="a-rode"><text x="33" y="585" textLength="54" lengthAdjust="spacingAndGlyphs">Rodeados reacción inflamatoria intensa</text></g>
<g id="a-nef"><text class="r" x="139" y="593" textLength="30" lengthAdjust="spacingAndGlyphs">NEFROPATÍA GOTOSA</text></g>
<g id="a-comp"><text class="b" x="93" y="593" textLength="33" lengthAdjust="spacingAndGlyphs">Complicaciones renales</text></g>
<g id="a-30"><text x="33" y="593" textLength="46" lengthAdjust="spacingAndGlyphs">30% muerte por insuficiencia renal</text></g>
<g id="a-pseu"><text class="r" x="169" y="602" textLength="21" lengthAdjust="spacingAndGlyphs">PSEUDOGOTA</text></g>
<g id="a-condr"><text x="134" y="602" textLength="22" lengthAdjust="spacingAndGlyphs">Condrocalcinosis</text></g>
<g id="a-depo"><text x="70" y="602" textLength="52" lengthAdjust="spacingAndGlyphs">Depósito <tspan class="b">cristales pirofosfato cálcico</tspan></text></g>
<g id="a-lyme"><text class="r" x="208" y="616" textLength="52" lengthAdjust="spacingAndGlyphs">ARTRITIS INFECCIOSA + DE LYME</text></g>
<g id="a-bor"><polygon class="hx" points="159,612 161.5,609.2 194.5,609.2 197,612 194.5,614.8 161.5,614.8"/><text class="b m" x="178" y="613" textLength="31" lengthAdjust="spacingAndGlyphs">Borrelia burgdorferi</text></g>
<g id="a-gar"><text x="132" y="611" textLength="16" lengthAdjust="spacingAndGlyphs">Garrapatas</text></g>
<g id="a-infa"><text x="167" y="621" textLength="29" lengthAdjust="spacingAndGlyphs">Inflamación articular</text></g>
<g id="a-resp"><text x="112" y="621" textLength="42" lengthAdjust="spacingAndGlyphs">Respuesta inmunitaria cruzada</text></g>

<g id="a-artr"><text class="k" x="273" y="657.4" textLength="21" lengthAdjust="spacingAndGlyphs">ARTROSIS</text></g>
<g id="a-enfd"><text class="r" x="207" y="631" textLength="53" lengthAdjust="spacingAndGlyphs">+ ENF ARTICULAR DEGENERATIVA</text></g>
<g id="a-tras"><text x="228" y="649" textLength="32" lengthAdjust="spacingAndGlyphs">Trastorno articular +frec</text></g>
<g id="a-degc"><text class="b" x="169" y="644" textLength="35" lengthAdjust="spacingAndGlyphs">Degeneración cartílago articular</text></g>
<g id="a-h"><text x="153" y="640">H</text></g>
<g id="a-cad"><text x="128" y="640" textLength="12" lengthAdjust="spacingAndGlyphs">Caderas</text></g>
<g id="a-m"><text x="153" y="648">M</text></g>
<g id="a-rym"><text x="117" y="648" textLength="23" lengthAdjust="spacingAndGlyphs">Rodillas y manos</text></g>
<g id="a-ost"><polygon class="hx" points="193,658 195.5,655.2 212.5,655.2 215,658 212.5,660.8 195.5,660.8"/><text class="r m" x="204" y="659" textLength="16" lengthAdjust="spacingAndGlyphs">OSTEOFITOS</text></g>
<g id="a-manos"><text x="173" y="656" textLength="8" lengthAdjust="spacingAndGlyphs">Manos</text></g>
<g id="a-heb"><polygon class="hx" points="122,658 124.5,655.2 158.5,655.2 161,658 158.5,660.8 124.5,660.8"/><text class="m" x="141.5" y="659" textLength="31" lengthAdjust="spacingAndGlyphs">Nódulos de Heberden</text></g>
<g id="a-ifd"><text x="59" y="656" textLength="50" lengthAdjust="spacingAndGlyphs">Articulaciones interfalángicas distales</text></g>
<g id="a-dolor"><polygon class="hx" points="183,668 186,663 259,663 262,668 259,673 186,673"/><text class="m" x="222.5" y="667" textLength="72" lengthAdjust="spacingAndGlyphs">Dolor articular <tspan class="b u">empeora con uso</tspan>, rigidez matutina y</text><text class="m" x="222.5" y="671" textLength="51" lengthAdjust="spacingAndGlyphs">chasquido, complicaciones (EXAMEN)</text></g>
<g id="a-tipos"><text x="254" y="683" textLength="6" lengthAdjust="spacingAndGlyphs">Tipos</text></g>
<g id="a-ap"><text class="r" x="209" y="679" textLength="31" lengthAdjust="spacingAndGlyphs">ARTROSIS PRIMARIA</text></g>
<g id="a-oli"><text class="b" x="176" y="679" textLength="20" lengthAdjust="spacingAndGlyphs">Oligoarticular</text></g>
<g id="a-loc"><text x="155" y="679" textLength="6" lengthAdjust="spacingAndGlyphs">Local</text></g>
<g id="a-as"><text class="r" x="196" y="687" textLength="44" lengthAdjust="spacingAndGlyphs">ARTROSIS SECUNDARIA (+frec)</text></g>
<g id="a-olim"><text class="b" x="156" y="687" textLength="27" lengthAdjust="spacingAndGlyphs">Oligo-multiarticular</text></g>
<g id="a-les"><text x="100" y="687" textLength="43" lengthAdjust="spacingAndGlyphs">Lesión traumática, deformidad</text></g>
<g id="a-jov"><text x="77" y="687" textLength="11" lengthAdjust="spacingAndGlyphs">Jóvenes</text></g>

<g id="a-tap"><text class="k m" x="260" y="720.4" textLength="54" lengthAdjust="spacingAndGlyphs">TUMORES ARTICULARES Y</text><text class="k m" x="260" y="726.4" textLength="36" lengthAdjust="spacingAndGlyphs">PSEUDOTUMORES</text></g>
<g id="a-gang"><text class="r" x="195" y="703" textLength="17" lengthAdjust="spacingAndGlyphs">GANGLIÓN</text></g>
<g id="a-qp"><text x="137" y="698" textLength="45" lengthAdjust="spacingAndGlyphs">Quiste pequeño (1,5cm), muñecas</text></g>
<g id="a-pf"><text x="163" y="708" textLength="19" lengthAdjust="spacingAndGlyphs">Pared fibrosa</text></g>
<g id="a-muc"><polygon class="hx" points="105,700 107.5,697.2 121.5,697.2 124,700 121.5,702.8 107.5,702.8"/><text class="b m" x="114.5" y="701" textLength="12" lengthAdjust="spacingAndGlyphs">Mucoso</text></g>
<g id="a-dmix"><text class="b" x="119" y="708" textLength="32" lengthAdjust="spacingAndGlyphs">Degeneración mixoide</text></g>
<g id="a-sinr"><polygon class="hx" points="62,710 64.5,707.2 104.5,707.2 107,710 104.5,712.8 64.5,712.8"/><text class="b m" x="84.5" y="711" textLength="37" lengthAdjust="spacingAndGlyphs">Sin revestimiento sinovial</text></g>
<g id="a-qs"><text class="r" x="183" y="724" textLength="29" lengthAdjust="spacingAndGlyphs">QUISTE SINOVIAL</text></g>
<g id="a-qb"><text class="r" x="145" y="721" textLength="26" lengthAdjust="spacingAndGlyphs">QUISTE DE BAKER</text></g>
<g id="a-fosa"><text x="114" y="721" textLength="18" lengthAdjust="spacingAndGlyphs">Fosa poplítea</text></g>
<g id="a-hern"><text x="103" y="728" textLength="68" lengthAdjust="spacingAndGlyphs">Herniación sinovial o agrandamiento bolsa sinovial</text></g>
<g id="a-rev"><polygon class="hx" points="50,730 52.5,727.2 86.5,727.2 89,730 86.5,732.8 52.5,732.8"/><text class="b m" x="69.5" y="731" textLength="32" lengthAdjust="spacingAndGlyphs">Revestimiento sinovial</text></g>
<g id="a-tcgt"><text class="r m" x="177.5" y="745" textLength="49" lengthAdjust="spacingAndGlyphs">TUMOR DE CÉLULAS GIGANTES</text><text class="r m" x="177.5" y="749" textLength="30" lengthAdjust="spacingAndGlyphs">TENOSINOVIAL</text></g>
<g id="a-afd"><text class="b" x="105" y="740" textLength="25" lengthAdjust="spacingAndGlyphs">Afectación difusa</text></g>
<g id="a-arod"><text x="63" y="740" textLength="30" lengthAdjust="spacingAndGlyphs">Articulaciones rodilla</text></g>
<g id="a-floc"><text class="b" x="106" y="748" textLength="24" lengthAdjust="spacingAndGlyphs">Forma localizada</text></g>
<g id="a-nod1"><text x="52" y="748" textLength="41" lengthAdjust="spacingAndGlyphs">Nódulo único muñeca, manos</text></g>
<g id="a-prol"><text class="m" x="99.5" y="755" textLength="58" lengthAdjust="spacingAndGlyphs">Proliferación sinoviocitos, hemosiderina,</text><text class="m" x="99.5" y="759" textLength="73" lengthAdjust="spacingAndGlyphs">macrófagos espumosos, cél gigantes, cicatrices</text></g>

<g id="m-conc"><text x="590" y="239" textLength="14" lengthAdjust="spacingAndGlyphs">Concepto</text></g>
<g id="m-diso"><text class="r" x="618" y="224" textLength="18" lengthAdjust="spacingAndGlyphs">DISOSTOSIS</text></g>
<g id="m-acd"><text class="b" x="648" y="211" textLength="52" lengthAdjust="spacingAndGlyphs">Anomalías congénitas del desarrollo</text></g>
<g id="m-fallo"><text x="713" y="207" textLength="36" lengthAdjust="spacingAndGlyphs">Fallo migración <tspan class="u">localizada</tspan></text></g>
<g id="m-noc"><text x="713" y="215" textLength="64" lengthAdjust="spacingAndGlyphs">No condensación cél mesenquimales primitivas</text></g>
<g id="m-apl"><text class="rr" x="648" y="223" textLength="14" lengthAdjust="spacingAndGlyphs">APLASIA</text></g>
<g id="m-aus"><text x="673" y="223" textLength="26" lengthAdjust="spacingAndGlyphs">Ausencia de hueso</text></g>
<g id="m-hsup"><text x="648" y="230" textLength="34" lengthAdjust="spacingAndGlyphs">Huesos supernumerarios</text></g>
<g id="m-fus"><text x="648" y="238" textLength="35" lengthAdjust="spacingAndGlyphs">Fusión anormal de huesos</text></g>
<g id="m-sind"><text class="rr" x="697" y="238" textLength="49" lengthAdjust="spacingAndGlyphs">SINDACTILIA, CRANEOSINOSTOSIS</text></g>
<g id="m-disp"><text class="r" x="618" y="254" textLength="18" lengthAdjust="spacingAndGlyphs">DISPLASIAS</text></g>
<g id="m-anor"><text x="648" y="254" textLength="35" lengthAdjust="spacingAndGlyphs">Anomalías organogénesis</text></g>
<g id="m-mut"><text x="696" y="247" textLength="45" lengthAdjust="spacingAndGlyphs">Mutaciones crecimiento/mantenimiento</text><text x="696" y="250.6" textLength="25" lengthAdjust="spacingAndGlyphs">óseo/cartilaginoso</text></g>
<g id="m-ostd"><text x="696" y="258" textLength="47" lengthAdjust="spacingAndGlyphs">Osteodisplasias / condrodisplasias</text></g>
<g id="m-acon"><text class="r" x="590" y="278" textLength="28" lengthAdjust="spacingAndGlyphs">ACONDROPLASIA</text></g>
<g id="m-dispe"><text class="b" x="631" y="268" textLength="37" lengthAdjust="spacingAndGlyphs">Displasia esquelética +frec</text></g>
<g id="m-forma"><text class="xs" x="682" y="268" textLength="16.5" lengthAdjust="spacingAndGlyphs">Forma +frec de</text><text class="b xs" x="700.5" y="268" textLength="9" lengthAdjust="spacingAndGlyphs">enanismo</text></g>
<g id="m-fgfr"><polygon class="hx" points="630,277 632.5,274.2 677.5,274.2 680,277 677.5,279.8 632.5,279.8"/><text class="m" x="655" y="278" textLength="43" lengthAdjust="spacingAndGlyphs">Mutaciones activadoras <tspan class="b">FGFR3</tspan></text></g>
<g id="m-retr"><text class="b" x="693" y="275" textLength="30" lengthAdjust="spacingAndGlyphs">Retraso crec cartílago</text></g>
<g id="m-osif"><text x="737" y="275" textLength="33" lengthAdjust="spacingAndGlyphs">Osificación endocondral</text></g>
<g id="m-clin"><text x="631" y="290" textLength="9" lengthAdjust="spacingAndGlyphs">Clínica</text></g>
<g id="m-acor"><text x="653" y="286" textLength="60" lengthAdjust="spacingAndGlyphs">Acortamiento proximal extremidades, lordosis,</text><text x="653" y="289.6" textLength="57" lengthAdjust="spacingAndGlyphs">cabeza grande con abombamiento frontal</text></g>
<g id="m-oi"><text class="r" x="590" y="311" textLength="46" lengthAdjust="spacingAndGlyphs">OSTEOGÉNESIS IMPERFECTA</text></g>
<g id="m-cris"><text class="r" x="648" y="298" textLength="50" lengthAdjust="spacingAndGlyphs">+ ENF DE LOS HUESOS DE CRISTAL</text></g>
<g id="m-trh"><text class="b" x="648" y="305" textLength="64" lengthAdjust="spacingAndGlyphs">Trastorno hereditario +frec tejido conjuntivo</text></g>
<g id="m-had"><polygon class="hx" points="724,308 726.5,305.2 735.5,305.2 738,308 735.5,310.8 726.5,310.8"/><text class="m" x="731" y="309">HAD</text></g>
<g id="m-sint"><polygon class="hx" points="749,308 751.5,305.2 798.5,305.2 801,308 798.5,310.8 751.5,310.8"/><text class="b m" x="775" y="309" textLength="45" lengthAdjust="spacingAndGlyphs">Síntesis defectuosa colágeno I</text></g>
<g id="m-cant"><text x="648" y="316" textLength="26" lengthAdjust="spacingAndGlyphs">Cantidad hueso escaso</text></g>
<g id="m-frag"><text x="693" y="316" textLength="26" lengthAdjust="spacingAndGlyphs">Fragilidad esquelética</text></g>
<g id="m-fract"><text class="b" x="735" y="316" textLength="13" lengthAdjust="spacingAndGlyphs">Fracturas</text></g>
<g id="m-manif"><text x="762" y="316" textLength="25" lengthAdjust="spacingAndGlyphs">Manifestación ppal</text></g>
<g id="m-otras"><text x="648" y="324" textLength="30" lengthAdjust="spacingAndGlyphs">Otras manifestaciones</text></g>
<g id="m-escl"><polygon class="hx" points="691,326 693.5,323.2 722.5,323.2 725,326 722.5,328.8 693.5,328.8"/><text class="m" x="708" y="327" textLength="27" lengthAdjust="spacingAndGlyphs">Escleróticas azules</text></g>
<g id="m-perd"><text x="736" y="324" textLength="54" lengthAdjust="spacingAndGlyphs">Pérdida audición, deformidades dientes</text></g>

<g id="e-deseq"><text class="b" x="590" y="342" textLength="16" lengthAdjust="spacingAndGlyphs">Desequilibrio</text></g>
<g id="e-osteo"><text class="m" x="657.5" y="338" textLength="53" lengthAdjust="spacingAndGlyphs">Osteoblastos, osteoclastos, osteocitos y</text><text class="m" x="657.5" y="342" textLength="30" lengthAdjust="spacingAndGlyphs">mineralización (Ca,P)</text></g>
<g id="e-raq"><text class="r m" x="620.5" y="349" textLength="38" lengthAdjust="spacingAndGlyphs">RAQUITISMO (NIÑOS) y</text><text class="r m" x="620.5" y="353" textLength="51" lengthAdjust="spacingAndGlyphs">OSTEOMALACIA (ADULTOS)</text></g>
<g id="e-defv"><polygon class="hx" points="672,355 674.5,352.2 713.5,352.2 716,355 713.5,357.8 674.5,357.8"/><text class="b m" x="694" y="356" textLength="37" lengthAdjust="spacingAndGlyphs">Déficit/acción anormal vitD</text></g>
<g id="e-mind"><polygon class="hx" points="727,355 729.5,352.2 767.5,352.2 770,355 767.5,357.8 729.5,357.8"/><text class="m" x="748.5" y="356" textLength="35" lengthAdjust="spacingAndGlyphs">Mineralización deficiente</text></g>
<g id="e-mucho"><text x="782" y="353" textLength="45" lengthAdjust="spacingAndGlyphs">Mucho osteoide no mineralizado</text></g>
<g id="e-osp"><text class="r" x="590" y="402" textLength="25" lengthAdjust="spacingAndGlyphs">OSTEOPOROSIS</text></g>
<g id="e-aph"><text class="b" x="628" y="364" textLength="37" lengthAdjust="spacingAndGlyphs">Aumento porosidad hueso</text></g>
<g id="e-dmo"><text x="678" y="364" textLength="32" lengthAdjust="spacingAndGlyphs">Disminución masa ósea</text></g>
<g id="e-fragi"><text x="723" y="364" textLength="13" lengthAdjust="spacingAndGlyphs">Fragilidad</text></g>
<g id="e-fractu"><text class="b" x="749" y="364" textLength="13" lengthAdjust="spacingAndGlyphs">Fractura</text></g>
<g id="e-loca"><text x="628" y="372" textLength="19" lengthAdjust="spacingAndGlyphs">LOCALIZADA</text></g>
<g id="e-pdes"><text x="660" y="372" textLength="41" lengthAdjust="spacingAndGlyphs">Por desuso de una extremidad</text></g>
<g id="e-gene"><text x="628" y="400" textLength="23" lengthAdjust="spacingAndGlyphs">GENERALIZADA</text></g>
<g id="e-prim"><text x="664" y="392" textLength="12" lengthAdjust="spacingAndGlyphs">Primaria</text></g>
<g id="e-posm"><text class="b" x="688" y="385" textLength="25" lengthAdjust="spacingAndGlyphs">Posmenopáusica</text></g>
<g id="e-phe"><polygon class="hx" points="727,388 729.5,385.2 773.5,385.2 776,388 773.5,390.8 729.5,390.8"/><text class="m" x="751.5" y="389" textLength="43" lengthAdjust="spacingAndGlyphs">Pérdida <tspan class="u">hueso esponjoso (axial)</tspan></text></g>
<g id="e-cuer"><text x="789" y="382" textLength="27" lengthAdjust="spacingAndGlyphs">Cuerpos vertebrales</text></g>
<g id="e-porl"><text x="789" y="389" textLength="36" lengthAdjust="spacingAndGlyphs">Por la caída de estrógenos</text></g>
<g id="e-senil"><text class="b" x="688" y="398" textLength="7" lengthAdjust="spacingAndGlyphs">Senil</text></g>
<g id="e-phc"><polygon class="hx" points="708,400 710.5,397.2 764.5,397.2 767,400 764.5,402.8 710.5,402.8"/><text class="m" x="737.5" y="401" textLength="53" lengthAdjust="spacingAndGlyphs">Pérdida <tspan class="u">hueso cortical (huesos largos)</tspan></text></g>
<g id="e-cuel"><text x="780" y="398" textLength="19" lengthAdjust="spacingAndGlyphs">Cuello femoral</text></g>
<g id="e-sec"><text x="664" y="409" textLength="15" lengthAdjust="spacingAndGlyphs">Secundaria</text></g>
<g id="e-dsr"><text class="b" x="628" y="423" textLength="45" lengthAdjust="spacingAndGlyphs">Desequilibrio síntesis/resorción</text></g>
<g id="e-posm2"><text class="b" x="686" y="418" textLength="25" lengthAdjust="spacingAndGlyphs">Posmenopáusica</text></g>
<g id="e-dise2"><text x="724" y="418" textLength="31" lengthAdjust="spacingAndGlyphs">Disminuyen estrógenos</text></g>
<g id="e-aoc"><polygon class="hx" points="767,420 769.5,417.2 794.5,417.2 797,420 794.5,422.8 769.5,422.8"/><text class="m" x="782" y="421" textLength="23" lengthAdjust="spacingAndGlyphs">Aumenta act OC</text></g>
<g id="e-senil2"><text class="b" x="686" y="429" textLength="6" lengthAdjust="spacingAndGlyphs">Senil</text></g>
<g id="e-dob"><polygon class="hx" points="704,430 706.5,427.2 731.5,427.2 734,430 731.5,432.8 706.5,432.8"/><text class="m" x="719" y="431" textLength="23" lengthAdjust="spacingAndGlyphs">Disminución OB</text></g>
<g id="e-hpor"><text class="b" x="628" y="440" textLength="19" lengthAdjust="spacingAndGlyphs">Hueso poroso</text></g>
<g id="e-trab"><text x="660" y="440" textLength="19" lengthAdjust="spacingAndGlyphs">Trabéculas finas</text></g>
<g id="e-ensa"><text x="695" y="440" textLength="48" lengthAdjust="spacingAndGlyphs">Ensanchamiento canales de Havers</text></g>
<g id="e-hpt"><text class="r" x="590" y="467" textLength="38" lengthAdjust="spacingAndGlyphs">HIPERPARATIROIDISMO</text></g>
<g id="e-aoc2"><polygon class="hx" points="641,455 643.5,452.2 666.5,452.2 669,455 666.5,457.8 643.5,457.8"/><text class="b m" x="655" y="456" textLength="21" lengthAdjust="spacingAndGlyphs">Aumenta act OC</text></g>
<g id="e-pth"><text x="684" y="449" textLength="34" lengthAdjust="spacingAndGlyphs">↑PTH aumenta calcemia</text></g>
<g id="e-esp"><text x="684" y="457" textLength="58" lengthAdjust="spacingAndGlyphs">Espacio medular + tejido conectivo laxo</text></g>
<g id="e-hem"><text x="754" y="457" textLength="15" lengthAdjust="spacingAndGlyphs">Hemorragia</text></g>
<g id="e-opg"><text class="rb" x="641" y="465" textLength="28" lengthAdjust="spacingAndGlyphs">Osteoporosis generalizada</text></g>
<g id="e-frecf"><text x="683" y="465" textLength="37" lengthAdjust="spacingAndGlyphs">+frec falanges, dedos, mano</text></g>
<g id="e-tp"><text class="rb" x="641" y="473" textLength="13" lengthAdjust="spacingAndGlyphs">Tumor pardo</text></g>
<g id="e-lfoc"><text x="673" y="473" textLength="44" lengthAdjust="spacingAndGlyphs">Lesión focalizada (no tumor real)</text></g>
<g id="e-ocg"><text x="729" y="473" textLength="66" lengthAdjust="spacingAndGlyphs">OC, células gigantes reactivas, hemosiderófagos</text></g>
<g id="e-ofq"><text class="rb" x="641" y="480" textLength="29" lengthAdjust="spacingAndGlyphs">Osteítis fibrosa quística</text></g>
<g id="e-camb"><text x="687" y="480" textLength="25" lengthAdjust="spacingAndGlyphs">Cambios quísticos</text></g>

<g id="p-odef"><text class="r" x="575" y="496" textLength="39" lengthAdjust="spacingAndGlyphs">+ OSTEÍTIS DEFORMANTE</text></g>
<g id="p-ach"><text class="b" x="627" y="496" textLength="36" lengthAdjust="spacingAndGlyphs">Aumento cantidad hueso</text></g>
<g id="p-deso"><text x="676" y="496" textLength="58" lengthAdjust="spacingAndGlyphs">Desordenado, estructuralmente inapropiado</text></g>
<g id="p-adul"><text class="b" x="748" y="492" textLength="31" lengthAdjust="spacingAndGlyphs">+ adultos, raza blanca</text></g>
<g id="p-patr"><text x="748" y="500" textLength="45" lengthAdjust="spacingAndGlyphs">Patrón laminar en puzzle/mosaico</text></g>
<g id="p-fases"><text x="575" y="517" textLength="24" lengthAdjust="spacingAndGlyphs">Fases secuenciales</text></g>
<g id="p-eol"><text class="b" x="613" y="509" textLength="24" lengthAdjust="spacingAndGlyphs">Etapa osteolítica</text></g>
<g id="p-act"><text x="649" y="509" textLength="60" lengthAdjust="spacingAndGlyphs">Act OC regional y reabsorción ósea frenética</text></g>
<g id="p-emx"><text class="b" x="613" y="517" textLength="23" lengthAdjust="spacingAndGlyphs">Etapa mixta OC-OB</text></g>
<g id="p-fexu"><text x="654" y="517" textLength="37" lengthAdjust="spacingAndGlyphs">Formación ósea exuberante</text></g>
<g id="p-eesc"><text class="b" x="613" y="524" textLength="30" lengthAdjust="spacingAndGlyphs">Etapa osteoesclerótica</text></g>
<g id="p-agot"><text x="658" y="524" textLength="46" lengthAdjust="spacingAndGlyphs">Agotamiento aparente act celular</text></g>
<g id="p-pato"><text x="575" y="532" textLength="13" lengthAdjust="spacingAndGlyphs">Patogenia</text></g>
<g id="p-infp"><text class="b" x="602" y="532" textLength="53" lengthAdjust="spacingAndGlyphs">Infección Paramyxovirus (sarampión)</text></g>
<g id="p-mutg"><text class="b" x="668" y="532" textLength="39" lengthAdjust="spacingAndGlyphs">Mutación germinal SQSTM1</text></g>
<g id="p-calv"><polygon class="hx" points="719,535 721.5,532.2 783.5,532.2 786,535 783.5,537.8 721.5,537.8"/><text class="b m" x="752.5" y="536" textLength="59" lengthAdjust="spacingAndGlyphs">calvario esq axial y fémur proximal (80%)</text></g>
<g id="p-tip"><text x="575" y="547" textLength="6" lengthAdjust="spacingAndGlyphs">Tipos</text></g>
<g id="p-mono"><text class="b" x="595" y="543" textLength="30" lengthAdjust="spacingAndGlyphs">MONOSTÓTICA (15%)</text></g>
<g id="p-lsol"><text x="638" y="543" textLength="20" lengthAdjust="spacingAndGlyphs">Lesión solitaria</text></g>
<g id="p-tib"><text x="671" y="543" textLength="64" lengthAdjust="spacingAndGlyphs">Tibia, ilíaco, fémur, cráneo, vértebras y húmero</text></g>
<g id="p-poli"><text class="b" x="595" y="551" textLength="31" lengthAdjust="spacingAndGlyphs">POLIOSTÓTICA (85%)</text></g>
<g id="p-mult"><text x="638" y="551" textLength="13" lengthAdjust="spacingAndGlyphs">Múltiples</text></g>
<g id="p-pelv"><text x="663" y="551" textLength="34" lengthAdjust="spacingAndGlyphs">Pelvis, cráneo y columna</text></g>

<g id="f-pih"><text class="b" x="567" y="569" textLength="36" lengthAdjust="spacingAndGlyphs">Pérdida integridad hueso</text></g>
<g id="f-res"><text x="616" y="569" textLength="64" lengthAdjust="spacingAndGlyphs">Resultante daño o disminución resistencia ósea</text></g>
<g id="f-clas"><text x="567" y="596" textLength="17" lengthAdjust="spacingAndGlyphs">Clasificación</text></g>
<g id="f-cer"><text x="597" y="577" textLength="59" lengthAdjust="spacingAndGlyphs">Cerradas (simples) o abiertas (compuestas)</text></g>
<g id="f-conm"><text x="597" y="585" textLength="16" lengthAdjust="spacingAndGlyphs">Conminutas</text></g>
<g id="f-much"><text x="626" y="585" textLength="24" lengthAdjust="spacingAndGlyphs">Muchos pedacitos</text></g>
<g id="f-despl"><text x="597" y="593" textLength="17" lengthAdjust="spacingAndGlyphs">Desplazadas</text></g>
<g id="f-tallo"><text x="597" y="600" textLength="18" lengthAdjust="spacingAndGlyphs">En tallo verde</text></g>
<g id="f-lact"><text x="628" y="600" textLength="13" lengthAdjust="spacingAndGlyphs">Lactantes</text></g>
<g id="f-hflex"><text x="655" y="600" textLength="24" lengthAdjust="spacingAndGlyphs">Huesos +flexibles</text></g>
<g id="f-pato"><text x="597" y="608" textLength="14" lengthAdjust="spacingAndGlyphs">Patológica</text></g>
<g id="f-secu"><text x="624" y="608" textLength="28" lengthAdjust="spacingAndGlyphs">Secundaria a enf previa</text></g>
<g id="f-estr"><text x="597" y="615" textLength="12" lengthAdjust="spacingAndGlyphs">Por estrés</text></g>
<g id="f-conj"><text x="623" y="615" textLength="66" lengthAdjust="spacingAndGlyphs">Conjunto de microfracturas por aumento act física</text></g>
<g id="f-etap"><polygon class="hx" points="567,643 569.5,640.2 617.5,640.2 620,643 617.5,645.8 569.5,645.8"/><text class="m" x="593.5" y="644" textLength="45" lengthAdjust="spacingAndGlyphs">Etapas reparación/cicatrización</text></g>
<g id="f-hema"><text class="b" x="632" y="631" textLength="39" lengthAdjust="spacingAndGlyphs">Hematoma en organización</text></g>
<g id="f-01"><text x="684" y="631" textLength="6" lengthAdjust="spacingAndGlyphs">0-1d</text></g>
<g id="f-union"><text class="m" x="738" y="624" textLength="70" lengthAdjust="spacingAndGlyphs">Unión extremos: malla fibrina → llamada citocinas</text><text class="m" x="738" y="628" textLength="58" lengthAdjust="spacingAndGlyphs">→ activación cél osteoprogenitoras (OB, OC,</text><text class="m" x="738" y="632" textLength="50" lengthAdjust="spacingAndGlyphs">condrocitos) → callo blando (2-3sem)</text></g>
<g id="f-callo"><text class="b" x="632" y="642" textLength="15" lengthAdjust="spacingAndGlyphs">Callo óseo</text></g>
<g id="f-23"><text x="660" y="642" textLength="9" lengthAdjust="spacingAndGlyphs">2-3sem</text></g>
<g id="f-form"><text class="m" x="716.5" y="639" textLength="65" lengthAdjust="spacingAndGlyphs">Formación cartílago (osificación endocondral) y</text><text class="m" x="716.5" y="642.6" textLength="34" lengthAdjust="spacingAndGlyphs">hueso reactivo inmaduro</text></g>
<g id="f-hlm"><text class="b" x="632" y="650" textLength="31" lengthAdjust="spacingAndGlyphs">Hueso laminar maduro</text></g>
<g id="f-sem"><text x="677" y="650" textLength="15" lengthAdjust="spacingAndGlyphs">Sem-meses</text></g>
<g id="f-remo"><text x="706" y="650" textLength="31" lengthAdjust="spacingAndGlyphs">Remodelación del callo</text></g>
</svg>
